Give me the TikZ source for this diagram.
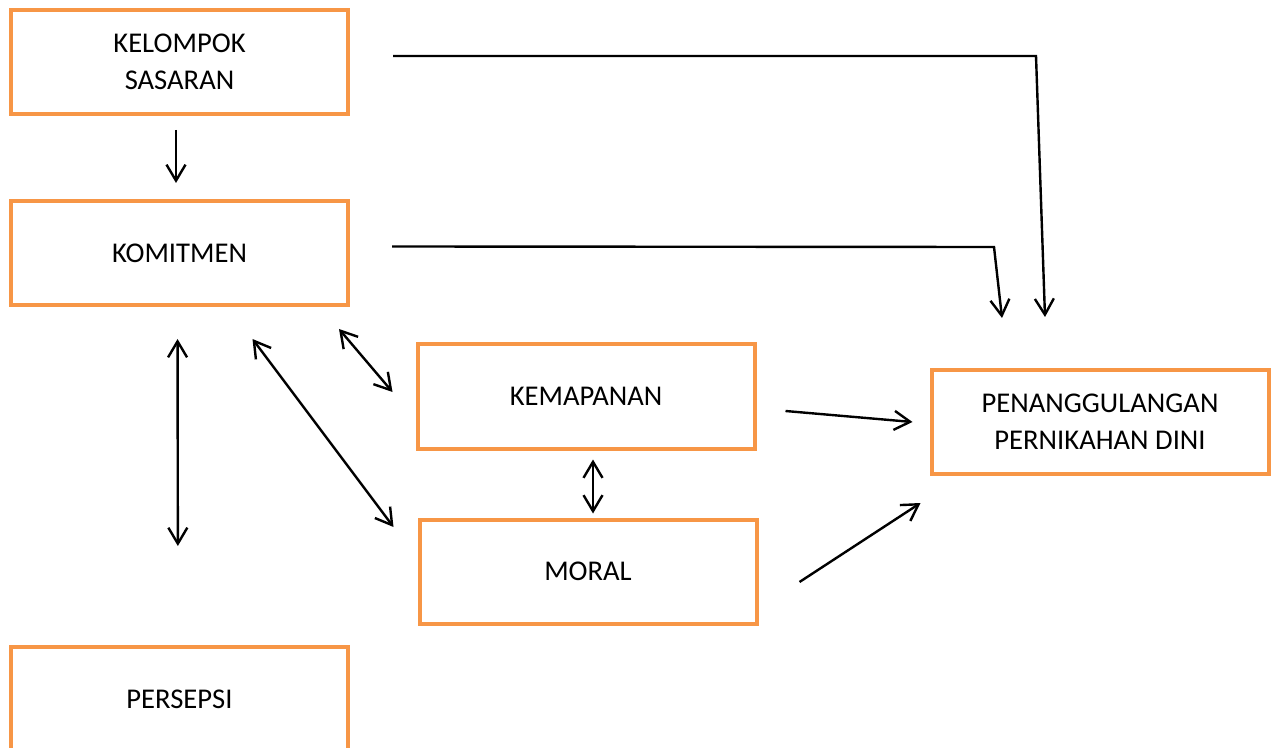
\documentclass[tikz,border=0pt]{standalone}
\usepackage{fontspec}
\setmainfont{Carlito}
\usetikzlibrary{positioning, arrows.meta}

\definecolor{boxorange}{RGB}{247,150,70}

\begin{document}
\begin{tikzpicture}[
		x=0.5pt, y=-0.5pt,
		block/.style={rectangle, draw=boxorange, line width=2pt, inner sep=0pt, minimum width=168.5pt, minimum height=52pt, align=center, font=\fontsize{14.3pt}{18.5pt}\selectfont},
		link/.style={line width=1.2pt},
		>={Straight Barb[length=8pt, width=9.5pt]}
	]
	\useasboundingbox (0,0) rectangle (1273,748);

	\node[block] (kelompok) at (179.5,62) {KELOMPOK\\SASARAN};
	\node[block, below=41.5pt of kelompok] (komitmen) {KOMITMEN};
	\node[block, below=169pt of komitmen] (persepsi) {PERSEPSI};
	\node[block] (kemapanan) at (586,396.5) {KEMAPANAN};
	\node[block, below=33.5pt of kemapanan, xshift=1pt] (moral) {MORAL};
	\node[block] (pen) at (1100,422) {PENANGGULANGAN\\PERNIKAHAN DINI};

	\coordinate (kbend) at (1036,56);
	\coordinate (mbend) at (994,247);

	\draw[link, ->, shorten <=7pt, shorten >=8pt] ([xshift=-1.75pt]kelompok.south) -- ([xshift=-1.75pt]komitmen.north);

	\draw[link, ->] ([xshift=21.5pt, yshift=3pt]kelompok.east) -- (kbend) -- ([xshift=-27.5pt, yshift=25.5pt]pen.north);
	\draw[link, ->] ([xshift=21pt, yshift=3.25pt]komitmen.east) -- (mbend) -- ([xshift=-49pt, yshift=25pt]pen.north);

	\draw[link, <->, shorten <=16pt, shorten >=49.5pt] ([xshift=-1pt]komitmen.south) -- ([xshift=-0.75pt]persepsi.north);
	\draw[link, <->] ([xshift=36.5pt, yshift=-16pt]komitmen.south) -- ([xshift=-12pt, yshift=22.25pt]moral.west);
	\draw[link, <->] ([xshift=-5.5pt, yshift=-11pt]komitmen.south east) -- ([xshift=-11.5pt, yshift=2.25pt]kemapanan.west);
	\draw[link, <->, shorten <=4.5pt, shorten >=2pt] ([xshift=3.5pt]kemapanan.south) -- ([xshift=2.5pt]moral.north);

	\draw[link, ->] ([xshift=14.5pt, yshift=-7.25pt]kemapanan.east) -- ([xshift=-8.5pt]pen.west);
	\draw[link, ->] ([xshift=20.5pt, yshift=-5.25pt]moral.east) -- ([xshift=-4.5pt, yshift=-13.5pt]pen.south west);

\end{tikzpicture}
\end{document}
